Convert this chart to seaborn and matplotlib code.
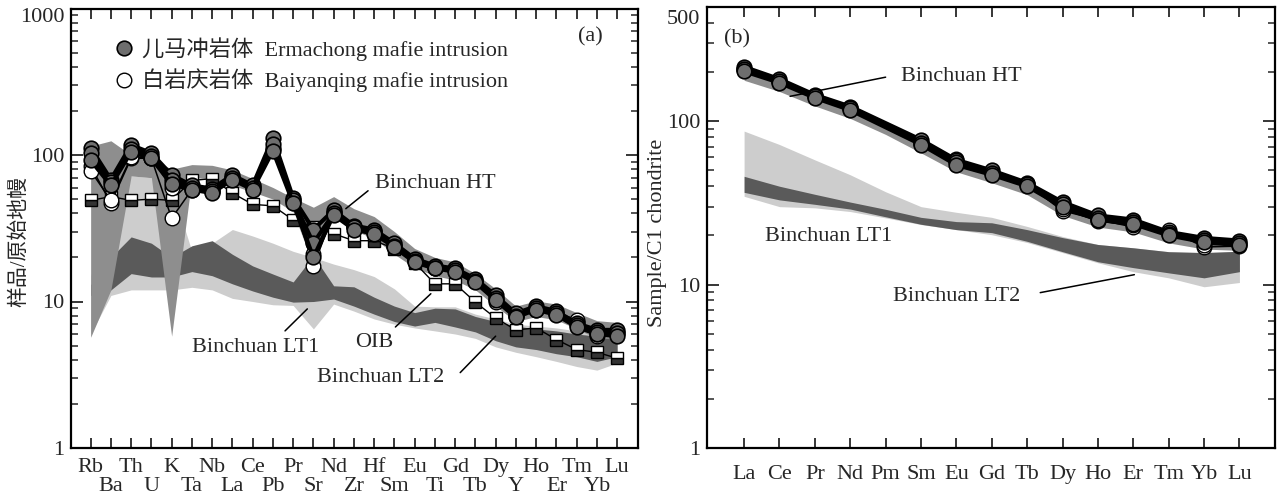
import matplotlib
matplotlib.use("Agg")
import numpy as np
import pandas as pd
import matplotlib.pyplot as plt
from matplotlib.lines import Line2D
from matplotlib.ticker import LogLocator, NullFormatter
import matplotlib.transforms as mtransforms
import seaborn as sns

# ---------------- panel (a): primitive-mantle normalised ----------------
spider_elements = ["Rb", "Ba", "Th", "U", "K", "Ta", "Nb", "La", "Ce", "Pb", "Pr", "Sr", "Nd", "Zr",
                   "Hf", "Sm", "Eu", "Ti", "Gd", "Tb", "Dy", "Y", "Ho", "Er", "Tm", "Yb", "Lu"]

erm_a_1 = [112, 68, 117, 103, 73, 62, 59, 73, 62, 131, 51, 31, 42, 33, 31, 25, 19.6, 17.6, 16.8, 14.3, 11.0, 8.3, 9.3, 8.6, 7.1, 6.4, 6.4]
erm_a_2 = [103, 65, 110, 98, 68, 60, 57, 70, 60, 118, 49, 25, 40, 32, 30, 24, 19.0, 17.0, 16.3, 13.8, 10.5, 8.0, 9.0, 8.3, 6.9, 6.2, 6.1]
erm_a_3 = [92, 62, 105, 95, 63, 58, 55, 68, 58, 107, 47, 20, 39, 31, 29, 23.5, 18.5, 16.8, 16.0, 13.5, 10.2, 7.8, 8.8, 8.1, 6.7, 6.0, 5.8]
bai_a_1 = [84, 47, 95, 95, 37, 58, 56, 70, 60, 110, 48, 17.5, 40, 32, 30, 24, 19.0, 17.0, 16.5, 13.8, 10.0, 8.0, 8.7, 8.2, 7.3, 5.8, 6.0]
bai_a_2 = [78, 49, 97, 96, 60, 60, 57, 71, 61, 112, 49, 21, 41, 32.5, 30.5, 24.5, 19.3, 17.2, 16.6, 14.0, 10.4, 8.1, 8.9, 8.4, 7.5, 6.0, 6.2]
oib_a = [49, 52, 49, 50, 49, 67, 69, 55, 46, 45, 36, 32.5, 29, 26, 26, 23, 18.4, 13.2, 13.2, 9.9, 7.7, 6.4, 6.6, 5.5, 4.7, 4.5, 4.1]

ht_a_hi = [115, 125, 100, 95, 80, 86, 85, 79, 69, 60, 51, 44, 52, 43, 38, 30, 23, 20, 18.6, 15.5, 12.2, 9.3, 10.1, 9.6, 8.4, 7.4, 7.2]
ht_a_lo = [5.7, 12, 72, 70, 5.8, 70, 69, 62, 56, 50, 41, 17.5, 40, 30.5, 27, 21, 17, 15, 14, 12, 9.3, 7.3, 7.9, 7.5, 6.5, 5.6, 5.6]
lt1_a_hi = [15, 40, 72, 70, 60, 22, 25, 31, 28, 25, 22, 20, 18, 16.5, 14.8, 12.2, 9.3, 9.2, 9.2, 8.2, 7.6, 7.0, 6.8, 6.6, 6.3, 6.0, 6.0]
lt1_a_lo = [6, 11, 12, 12, 12, 12.5, 12, 10.5, 10, 9.5, 9.4, 6.5, 9.6, 8.6, 7.6, 7.0, 6.6, 6.3, 6.0, 5.6, 4.9, 4.5, 4.2, 3.9, 3.6, 3.4, 3.8]
lt2_a_hi = [13, 20, 27.6, 25, 20, 24, 26, 21, 17.5, 15.4, 13.6, 20.5, 12.8, 12.6, 10.7, 9.3, 8.4, 9.0, 8.9, 7.9, 7.3, 6.8, 6.5, 6.3, 6.0, 5.8, 5.7]
lt2_a_lo = [11, 12, 15.5, 14.7, 14.7, 16, 15, 13.2, 11.8, 10.7, 9.9, 10, 10.4, 9.3, 8.2, 7.3, 6.8, 7.2, 6.7, 6.2, 5.4, 4.9, 4.7, 4.4, 4.2, 3.9, 4.2]

# ---------------- panel (b): C1 chondrite normalised REE ----------------
ree_elements = ["La", "Ce", "Pr", "Nd", "Pm", "Sm", "Eu", "Gd", "Tb", "Dy", "Ho", "Er", "Tm", "Yb", "Lu"]
nan = float("nan")
erm_b_1 = [215, 181, 145, 123, nan, 77, 58, 50, 42, 32, 26.5, 25, 21, 19.3, 18.6]
erm_b_2 = [208, 176, 142, 120, nan, 74, 56, 48.5, 41, 31, 25.5, 24.2, 20.5, 18.7, 18.0]
erm_b_3 = [202, 172, 139, 117, nan, 72, 54, 47, 40, 30, 25, 23.5, 20, 18.2, 17.4]
bai_b_1 = [210, 177, 143, 121, nan, 75, 59, 49, 41, 28.3, 25, 22.5, 21.6, 17.0, 17.2]
bai_b_2 = [205, 174, 140, 119, nan, 73, 57, 48, 40.5, 29, 24.5, 23, 20.8, 17.5, 17.8]

ht_b_hi = [205, 174, 141, 119, 95, 73, 56, 48, 40.5, 30, 25, 24, 20.5, 18.5, 18.0]
ht_b_lo = [178, 152, 124, 104, 83, 64, 49, 42, 35.5, 26.5, 22.5, 21, 18, 16.5, 16.2]
lt1_b_hi = [87, 72, 58, 47, 37, 30, 27.7, 25.8, 22.7, 19.7, 17.6, 16.8, 15.9, 15.7, 16.0]
lt1_b_lo = [34.7, 30, 29.5, 28, 25.6, 23.3, 21.7, 20.2, 18.1, 15.7, 13.6, 12.0, 11.0, 9.7, 10.3]
lt2_b_hi = [46, 40, 35.7, 32, 28.9, 25.8, 24.3, 23.9, 21.7, 19.4, 17.6, 16.8, 15.9, 15.7, 16.0]
lt2_b_lo = [36.7, 33, 31, 29, 26, 23.4, 21.7, 20.8, 18.4, 15.9, 13.8, 12.7, 11.8, 11.0, 12.0]

# ---------------- style ----------------
sns.set_style("ticks")
plt.rcParams["font.family"] = ["Liberation Serif", "Noto Sans CJK SC"]
plt.rcParams["axes.unicode_minus"] = False

C_HT = "#8e8e8e"
C_LT1 = "#cdcdcd"
C_LT2 = "#5a5a5a"
C_DOT = "#6e6e6e"
FS = 16


def long_df(elements, samples):
    rows = []
    for name, vals in samples.items():
        for i, (el, v) in enumerate(zip(elements, vals)):
            if not np.isnan(v):
                rows.append({"pos": i, "el": el, "val": v, "sample": name})
    return pd.DataFrame(rows)


def draw_samples(ax, elements, erm, bai):
    dfb = long_df(elements, bai)
    sns.lineplot(data=dfb, x="pos", y="val", units="sample", estimator=None, sort=False,
                 color="black", lw=1.1, marker="o", markersize=10.5, markerfacecolor="white",
                 markeredgecolor="black", markeredgewidth=1.0, legend=False, ax=ax, zorder=5)
    dfe = long_df(elements, erm)
    sns.lineplot(data=dfe, x="pos", y="val", units="sample", estimator=None, sort=False,
                 color="black", lw=3.0, marker="o", markersize=10.5, markerfacecolor=C_DOT,
                 markeredgecolor="black", markeredgewidth=1.2, legend=False, ax=ax, zorder=6)


def style_log_axis(ax):
    ax.set_yscale("log")
    ax.yaxis.set_minor_locator(LogLocator(base=10, subs=np.arange(2, 10)))
    ax.yaxis.set_minor_formatter(NullFormatter())
    ax.tick_params(axis="y", which="major", direction="in", left=True, right=True,
                   length=8.5, width=1.3, labelsize=FS, pad=5)
    ax.tick_params(axis="y", which="minor", direction="in", left=True, right=True,
                   length=4.8, width=1.1)
    for s in ax.spines.values():
        s.set_linewidth(1.6)
        s.set_color("black")
    ax.set_xlabel("")


fig = plt.figure(figsize=(12.77, 4.97), dpi=100)
axA = fig.add_axes([71.4 / 1277, 49 / 497, 566.6 / 1277, 439.5 / 497])
axB = fig.add_axes([707.3 / 1277, 49 / 497, 567.5 / 1277, 441 / 497])

# ---- panel (a)
xa = np.arange(len(spider_elements))
axA.fill_between(xa, lt1_a_lo, lt1_a_hi, color=C_LT1, lw=0, zorder=1)
axA.fill_between(xa, lt2_a_lo, lt2_a_hi, color=C_LT2, lw=0, zorder=2)
axA.fill_between(xa, ht_a_lo, ht_a_hi, color=C_HT, lw=0, zorder=3)

df_oib = pd.DataFrame({"pos": xa, "val": oib_a})
sns.lineplot(data=df_oib, x="pos", y="val", sort=False, color="black", lw=1.0, marker="s",
             markersize=9, fillstyle="bottom", markerfacecolor="#333333",
             markerfacecoloralt="white", markeredgecolor="black", markeredgewidth=1.0,
             legend=False, ax=axA, zorder=4)
draw_samples(axA, spider_elements,
             {"e1": erm_a_1, "e2": erm_a_2, "e3": erm_a_3},
             {"b1": bai_a_1, "b2": bai_a_2})

style_log_axis(axA)
axA.set_xlim(-0.95, 27.03)
axA.set_ylim(1, 1000)
axA.set_yticks([1, 10, 100, 1000])
axA.set_yticklabels(["1", "10", "100", ""])
transA = mtransforms.blended_transform_factory(axA.transAxes, axA.transData)
axA.text(-0.012, 870, "1000", fontsize=FS, ha="right", va="center", transform=transA)
even = xa[0::2]
odd = xa[1::2]
axA.set_xticks(even)
axA.set_xticklabels([spider_elements[i] for i in even])
axA.set_xticks(odd, minor=True)
axA.set_xticklabels([spider_elements[i] for i in odd], minor=True)
axA.tick_params(axis="x", which="major", direction="in", top=True, bottom=True,
                length=7, width=1.3, labelsize=FS, pad=7)
axA.tick_params(axis="x", which="minor", direction="in", top=True, bottom=True,
                length=7, width=1.3, labelsize=FS, pad=21)
axA.set_ylabel("样品/原始地幔", fontsize=15)
axA.yaxis.set_label_coords(-0.074, 0.47)

axA.text(24.7, 640, "(a)", fontsize=FS, ha="center", va="center")
handles = [Line2D([], [], ls="none", marker="o", markersize=10.5, markerfacecolor=C_DOT,
                  markeredgecolor="black", markeredgewidth=1.2),
           Line2D([], [], ls="none", marker="o", markersize=10.5, markerfacecolor="white",
                  markeredgecolor="black", markeredgewidth=1.0)]
labels = ["儿马冲岩体  Ermachong mafie intrusion", "白岩庆岩体  Baiyanqing mafie intrusion"]
axA.legend(handles, labels, loc="upper left", bbox_to_anchor=(0.073, 0.935), frameon=False,
           fontsize=FS, handlelength=1.0, handletextpad=0.3, labelspacing=0.35,
           borderpad=0, borderaxespad=0)

ann = dict(arrowprops=dict(arrowstyle="-", lw=1.1, color="black", shrinkA=0, shrinkB=0))
axA.annotate("", xy=(12.6, 43), xytext=(13.7, 57), **ann)
axA.text(17.0, 64, "Binchuan HT", fontsize=FS, ha="center", va="center")
axA.annotate("", xy=(10.7, 8.9), xytext=(9.6, 6.3), **ann)
axA.text(8.15, 4.87, "Binchuan LT1", fontsize=FS, ha="center", va="center")
axA.annotate("", xy=(16.8, 11.3), xytext=(15.05, 6.7), **ann)
axA.text(14.0, 5.27, "OIB", fontsize=FS, ha="center", va="center")
axA.annotate("", xy=(20.0, 5.8), xytext=(18.25, 3.27), **ann)
axA.text(14.3, 3.03, "Binchuan LT2", fontsize=FS, ha="center", va="center")

# ---- panel (b)
xb = np.arange(len(ree_elements))
axB.fill_between(xb, lt1_b_lo, lt1_b_hi, color=C_LT1, lw=0, zorder=1)
axB.fill_between(xb, lt2_b_lo, lt2_b_hi, color=C_LT2, lw=0, zorder=2)
axB.fill_between(xb, ht_b_lo, ht_b_hi, color=C_HT, lw=0, zorder=3)
draw_samples(axB, ree_elements,
             {"e1": erm_b_1, "e2": erm_b_2, "e3": erm_b_3},
             {"b1": bai_b_1, "b2": bai_b_2})
style_log_axis(axB)
axB.set_xlim(-1.04, 15.0)
axB.set_ylim(1, 500)
axB.set_yticks([1, 10, 100])
axB.set_yticklabels(["1", "10", "100"])
axB.set_xticks(xb)
axB.set_xticklabels(ree_elements)
axB.tick_params(axis="x", which="major", direction="in", top=True, bottom=True,
                length=7, width=1.3, labelsize=FS, pad=12)
axB.tick_params(axis="x", which="minor", top=False, bottom=False)
transB = mtransforms.blended_transform_factory(axB.transAxes, axB.transData)
axB.text(-0.012, 420, "500", fontsize=FS, ha="right", va="center", transform=transB)
axB.set_ylabel("Sample/C1 chondrite", fontsize=FS)
axB.yaxis.set_label_coords(-0.071, 0.488)

axB.text(-0.2, 318, "(b)", fontsize=FS, ha="center", va="center")
axB.annotate("", xy=(1.3, 142), xytext=(4.0, 186), **ann)
axB.text(6.14, 189, "Binchuan HT", fontsize=FS, ha="center", va="center")
axB.text(2.38, 19.7, "Binchuan LT1", fontsize=FS, ha="center", va="center")
axB.annotate("", xy=(11.03, 11.5), xytext=(8.37, 8.93), **ann)
axB.text(6.02, 8.44, "Binchuan LT2", fontsize=FS, ha="center", va="center")

fig.savefig("out.png", dpi=100)
